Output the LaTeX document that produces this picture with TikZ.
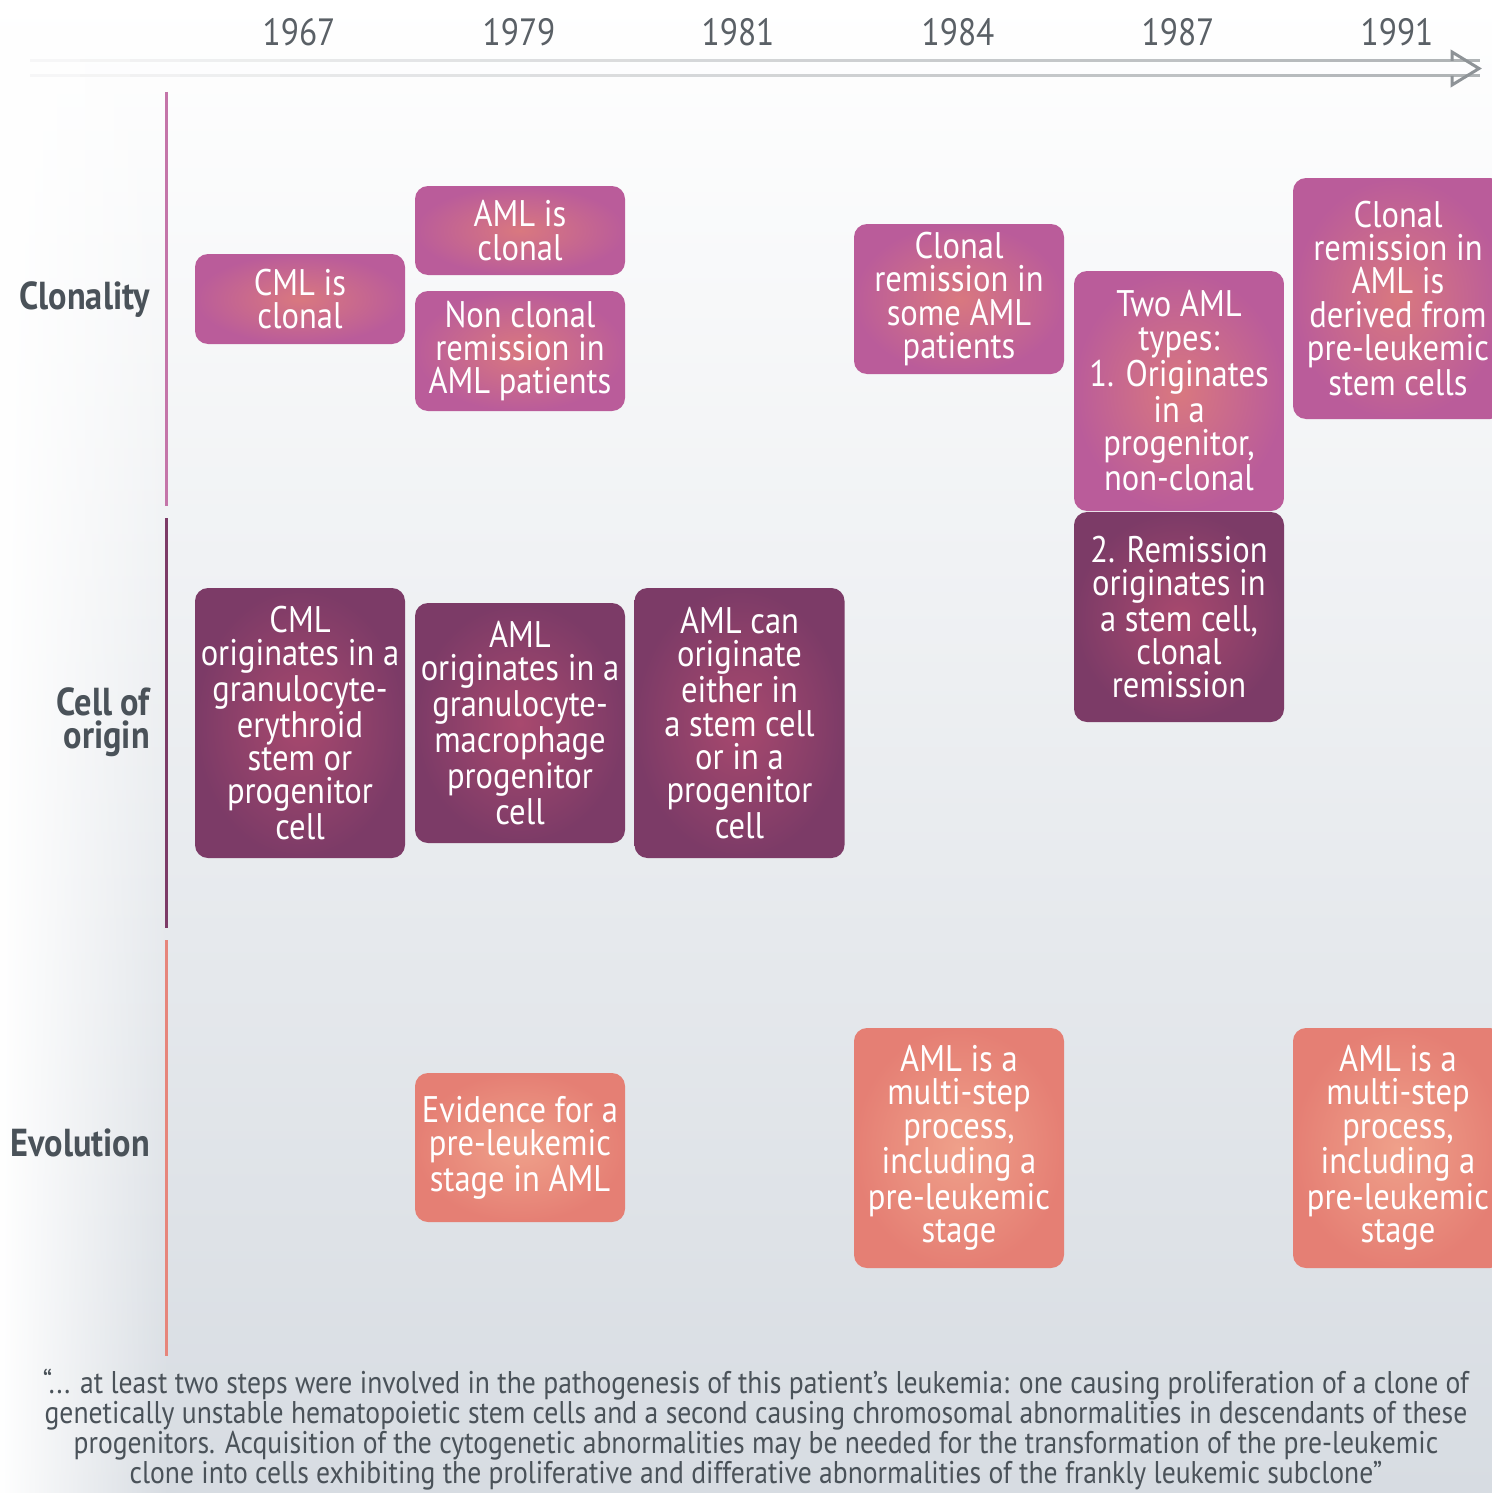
\documentclass[tikz,border=0pt]{standalone}
\usepackage{fontspec}
\setmainfont{PT Sans}[FakeStretch=0.88]
\usetikzlibrary{positioning,fadings}

\definecolor{bgBot}{HTML}{D7DCE2}
\definecolor{txtGrey}{HTML}{4A5259}
\definecolor{yearGrey}{HTML}{5A6066}
\definecolor{clonIn}{HTML}{D9787F}
\definecolor{clonOut}{HTML}{BA5C9A}
\definecolor{cellIn}{HTML}{A8496E}
\definecolor{cellOut}{HTML}{7C3B67}
\definecolor{evoIn}{HTML}{EFA08A}
\definecolor{evoOut}{HTML}{E57F74}
\definecolor{arrowGrey}{HTML}{8E9397}
\tikzfading[name=fadeleft, left color=transparent!0, right color=transparent!100]

\begin{document}
\begin{tikzpicture}[x=0.5pt,y=-0.5pt,
  box/.style={rounded corners=6.5pt,minimum width=105pt,align=center,text=white,inner sep=1pt,font=\fontsize{18.5}{16.6}\selectfont},
  clonbox/.style={box,inner color=clonIn,outer color=clonOut},
  cellbox/.style={box,inner color=cellIn,outer color=cellOut},
  evobox/.style={box,inner color=evoIn,outer color=evoOut},
  rowlbl/.style={anchor=east,align=right,text=txtGrey,font=\fontsize{19.5}{16.5}\selectfont\bfseries},
  yearlbl/.style={text=yearGrey,font=\fontsize{19}{19}\selectfont}]
\useasboundingbox (0,0) rectangle (1492,1493);
\clip (0,0) rectangle (1492,1493);
\shade[top color=white,bottom color=bgBot] (0,0) rectangle (1492,1493);
\fill[white,path fading=fadeleft] (0,0) rectangle (170,1493);

% time axis
\foreach \i in {0,...,28}{
  \pgfmathsetmacro\pc{8+62*\i/28}
  \draw[line width=1.5pt,arrowGrey!\pc!white] (30+50*\i,61)--(80+50*\i,61);
  \draw[line width=1.5pt,arrowGrey!\pc!white] (30+50*\i,76)--(80+50*\i,76);
}
\draw[line width=1.5pt,arrowGrey,line join=miter] (1452,61)--(1452,52)--(1479,68.5)--(1452,85)--(1452,76);
\foreach \yr/\x in {1967/299,1979/519,1981/738,1984/958,1987/1178,1991/1397}
  \node[yearlbl] (y\yr) at (\x,32) {\yr};

% row axes
\draw[line width=1.5pt,clonOut!85!white] (166,92)--(166,506);
\draw[line width=1.5pt,cellOut] (166,518)--(166,928);
\draw[line width=1.5pt,evoOut!95!white] (166,940)--(166,1356);
\node[rowlbl] (clonality) at (157,300) {Clonality};
\node[rowlbl] (cellorigin) at (157,722) {Cell of\\origin};
\node[rowlbl] (evolution) at (157,1143) {Evolution};

% clonality
\node[clonbox,minimum height=45pt] (cmlclonal) at (300,299) {CML is\\clonal};
\node[clonbox,minimum height=44.5pt] (amlclonal) at (520,230.5) {AML is\\clonal};
\node[clonbox,minimum height=60pt] (nonclonal) at (520,351) {Non clonal\\remission in\\AML patients};
\node[clonbox,minimum height=75pt] (somerem) at (959,299) {Clonal\\remission in\\some AML\\patients};
\node[clonbox,minimum height=120pt] (twotypes) at (1179,391) {Two AML\\types:\\1. Originates\\in a\\progenitor,\\non-clonal};
\node[clonbox,minimum height=120.5pt] (prestem) at (1398,298.5) {Clonal\\remission in\\AML is\\derived from\\pre-leukemic\\stem cells};

% cell of origin
\node[cellbox,minimum height=105pt] (stemrem) at (1179,617) {2. Remission\\originates in\\a stem cell,\\clonal\\remission};
\node[cellbox,minimum height=135pt] (cmlorigin) at (300,723) {CML\\originates in a\\granulocyte-\\erythroid\\stem or\\progenitor\\cell};
\node[cellbox,minimum height=120pt] (amlorigin) at (520,723) {AML\\originates in a\\granulocyte-\\macrophage\\progenitor\\cell};
\node[cellbox,minimum height=135pt] (amleither) at (739.5,723) {AML can\\originate\\either in\\a stem cell\\or in a\\progenitor\\cell};

% evolution
\node[evobox,minimum height=74.5pt] (evidence) at (520,1147.5) {Evidence for a\\pre-leukemic\\stage in AML};
\node[evobox,minimum height=120pt] (multistep) at (959,1148) {AML is a\\multi-step\\process,\\including a\\pre-leukemic\\stage};
\node[evobox,minimum height=120pt] (multistepb) at (1398,1148) {AML is a\\multi-step\\process,\\including a\\pre-leukemic\\stage};

\node[align=center,text=txtGrey,font=\fontsize{15.7}{15}\selectfont] (quote) at (756,1430)
  {“... at least two steps were involved in the pathogenesis of this patient’s leukemia: one causing proliferation of a clone of\\
   genetically unstable hematopoietic stem cells and a second causing chromosomal abnormalities in descendants of these\\
   progenitors. Acquisition of the cytogenetic abnormalities may be needed for the transformation of the pre-leukemic\\
   clone into cells exhibiting the proliferative and differative abnormalities of the frankly leukemic subclone”};
\end{tikzpicture}
\end{document}
